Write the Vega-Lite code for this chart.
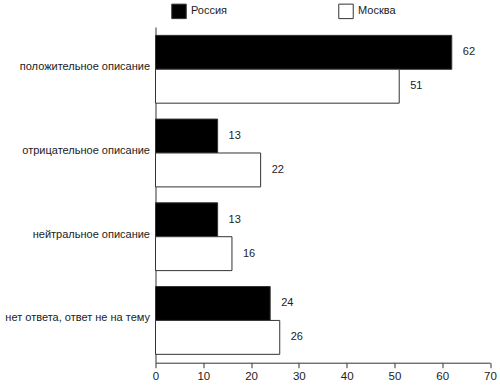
{
  "$schema": "https://vega.github.io/schema/vega-lite/v6.json",
  "width": 334.5,
  "height": 335.7,
  "autosize": "none",
  "padding": {"left": 155.5, "top": 27, "right": 10, "bottom": 23.3},
  "background": "white",
  "config": {
    "view": {"stroke": null},
    "font": "Liberation Sans",
    "axis": {"grid": false, "domainColor": "#333", "tickColor": "#333", "labelColor": "#222", "labelFont": "Liberation Sans"}
  },
  "data": {
    "values": [
      {"category": "положительное описание", "series": "Россия", "value": 62},
      {"category": "положительное описание", "series": "Москва", "value": 51},
      {"category": "отрицательное описание", "series": "Россия", "value": 13},
      {"category": "отрицательное описание", "series": "Москва", "value": 22},
      {"category": "нейтральное описание", "series": "Россия", "value": 13},
      {"category": "нейтральное описание", "series": "Москва", "value": 16},
      {"category": "нет ответа, ответ не на тему", "series": "Россия", "value": 24},
      {"category": "нет ответа, ответ не на тему", "series": "Москва", "value": 26}
    ]
  },
  "encoding": {
    "y": {
      "field": "category",
      "type": "nominal",
      "sort": null,
      "scale": {"paddingInner": 0.19, "paddingOuter": 0.1},
      "axis": {"title": null, "ticks": false, "labelPadding": 6, "labelFontSize": 11, "labelLimit": 200, "labelOffset": -2}
    },
    "yOffset": {
      "field": "series",
      "type": "nominal",
      "sort": ["Россия", "Москва"],
      "scale": {"paddingInner": 0, "paddingOuter": 0}
    },
    "x": {
      "field": "value",
      "type": "quantitative",
      "scale": {"domain": [0, 70], "nice": false, "zero": true},
      "axis": {"title": null, "values": [0, 10, 20, 30, 40, 50, 60, 70], "tickSize": 5, "labelFontSize": 11.5, "labelPadding": 3, "labelFlush": false}
    }
  },
  "layer": [
    {
      "mark": {"type": "bar", "stroke": "#333", "strokeWidth": 1},
      "encoding": {
        "color": {
          "field": "series",
          "type": "nominal",
          "sort": ["Россия", "Москва"],
          "scale": {"domain": ["Россия", "Москва"], "range": ["black", "white"]},
          "legend": {
            "title": null,
            "orient": "none",
            "direction": "horizontal",
            "legendX": 15.5,
            "legendY": -24,
            "symbolType": "square",
            "symbolSize": 210,
            "symbolStrokeColor": "#333",
            "symbolStrokeWidth": 1,
            "symbolOpacity": 1,
            "labelFontSize": 11,
            "labelOffset": 4,
            "labelColor": "#222",
            "columnPadding": 108
          }
        }
      }
    },
    {
      "mark": {"type": "text", "align": "left", "baseline": "middle", "dx": 11, "fontSize": 11, "fill": "#222"},
      "encoding": {"text": {"field": "value", "type": "quantitative"}}
    }
  ]
}
